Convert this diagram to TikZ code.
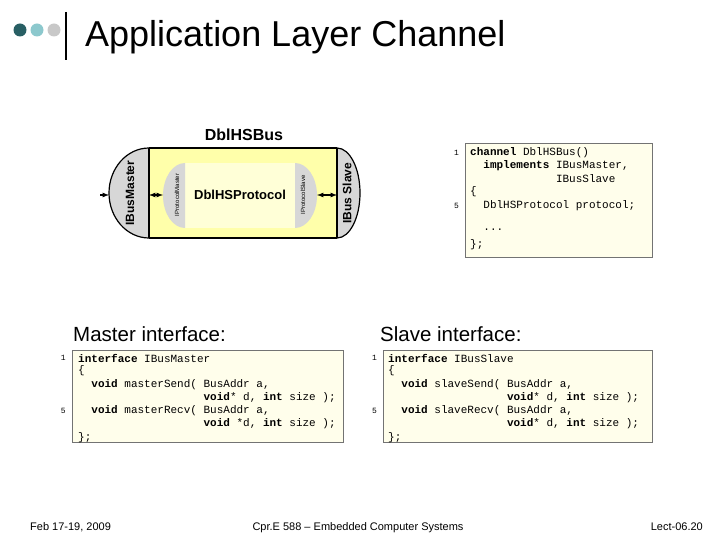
\documentclass[tikz,border=0pt]{standalone}
\usepackage{fontspec}
\setmainfont{Liberation Sans}
\setmonofont{Liberation Mono}
\begin{document}
\begin{tikzpicture}[x=1pt,y=-1pt,
  code/.style={anchor=west,inner sep=0pt,font=\fontsize{11}{12}\selectfont\ttfamily},
  lnum/.style={anchor=east,inner sep=0pt,font=\fontsize{8}{9}\selectfont\ttfamily},
  box/.style={draw=black!55,line width=0.8pt,fill=yellow!8},
  dbl/.style={<->,>=latex,line width=1.2pt}]
\useasboundingbox (0,0) rectangle (720,540);
\definecolor{dk}{RGB}{40,95,100}\definecolor{lt}{RGB}{140,200,205}\definecolor{gr}{RGB}{200,200,200}
\definecolor{ylw}{RGB}{255,255,170}\definecolor{ylw2}{RGB}{255,255,215}\definecolor{capg}{RGB}{215,215,215}
\fill[dk] (20,30) circle (6.5);\fill[lt] (37,30) circle (6.5);\fill[gr] (54,30) circle (6.5);
\draw[line width=2pt] (66,12) -- (66,60);
\node[anchor=base west,inner sep=0pt,font=\fontsize{36}{40}\selectfont] (title) at (85,47) {Application Layer Channel};
% bus
\node[font=\bfseries\fontsize{16}{18}\selectfont] (bus) at (244,135) {DblHSBus};
\fill[ylw] (149,148) rectangle (337,238);
\draw[fill=capg,line width=1.2pt] (149,148) arc[start angle=-90,end angle=-270,x radius=40,y radius=45] -- cycle;
\draw[fill=capg,line width=1.2pt] (337,148) arc[start angle=-90,end angle=90,x radius=23,y radius=45] -- cycle;
\draw[line width=2pt] (149,148) -- (337,148) (149,238) -- (337,238);
\draw[line width=1.2pt] (149,148) -- (149,238) (337,148) -- (337,238);
\fill[ylw2] (185,163) rectangle (295,228);
\fill[capg] (185,163) arc[start angle=-90,end angle=-270,x radius=22,y radius=32.5] -- cycle;
\fill[capg] (295,163) arc[start angle=-90,end angle=90,x radius=22,y radius=32.5] -- cycle;
\node[rotate=90,font=\bfseries\fontsize{12}{14}\selectfont] (ibm) at (130,193) {IBusMaster};
\node[rotate=90,font=\bfseries\fontsize{12}{14}\selectfont] (ibs) at (347,193) {IBus Slave};
\node[rotate=90,font=\fontsize{6}{7}\selectfont] (ipm) at (177,195) {IProtocolMaster};
\node[rotate=90,font=\fontsize{6}{7}\selectfont] (ips) at (303,195) {IProtocolSlave};
\node[font=\bfseries\fontsize{13}{15}\selectfont] (prot) at (240,195) {DblHSProtocol};
\coordinate (lt) at (100,195);\coordinate (lm) at (109,195);
\draw[->,>=latex,line width=1.2pt] (lt) -- (lm);
\coordinate (a1) at (149,195);\coordinate (a2) at (163,195);
\draw[dbl] (a1) -- (a2);
\coordinate (b1) at (317,195);\coordinate (b2) at (337,195);
\draw[dbl] (b1) -- (b2);
% channel code
\draw[box] (465,143) rectangle (652,257);
\node[lnum] (n1) at (459,153) {1};\node[lnum] (n5) at (459,206) {5};
\node[code] (c1) at (470,153) {\textbf{channel} DblHSBus()};
\node[code] (c2) at (470,166) {\ \ \textbf{implements} IBusMaster,};
\node[code] (c3) at (470,179) {\ \ \ \ \ \ \ \ \ \ \ \ \ IBusSlave};
\node[code] (c4) at (470,192) {\{};
\node[code] (c5) at (470,206) {\ \ DblHSProtocol protocol;};
\node[code] (c6) at (470,230) {\ \ ...};
\node[code] (c7) at (470,245) {\};};
% master
\node[anchor=base west,inner sep=0pt,font=\fontsize{20.5}{24}\selectfont] (mi) at (73,341) {Master interface:};
\draw[box] (72,350) rectangle (343,442);
\node[lnum] (m1) at (66,358) {1};\node[lnum] (m5) at (66,411) {5};
\node[code] (mc1) at (78,358) {\textbf{interface} IBusMaster};
\node[code] (mc2) at (78,371) {\{};
\node[code] (mc3) at (78,385) {\ \ \textbf{void} masterSend( BusAddr a,};
\node[code] (mc4) at (78,398) {\ \ \ \ \ \ \ \ \ \ \ \ \ \ \ \ \ \ \ \textbf{void}* d, \textbf{int} size );};
\node[code] (mc5) at (78,411) {\ \ \textbf{void} masterRecv( BusAddr a,};
\node[code] (mc6) at (78,424) {\ \ \ \ \ \ \ \ \ \ \ \ \ \ \ \ \ \ \ \textbf{void} *d, \textbf{int} size );};
\node[code] (mc7) at (78,438) {\};};
% slave
\node[anchor=base west,inner sep=0pt,font=\fontsize{20.5}{24}\selectfont] (si) at (380,341) {Slave interface:};
\draw[box] (383,350) rectangle (652,442);
\node[lnum] (s1) at (377,358) {1};\node[lnum] (s5) at (377,411) {5};
\node[code] (sc1) at (388,358) {\textbf{interface} IBusSlave};
\node[code] (sc2) at (388,371) {\{};
\node[code] (sc3) at (388,385) {\ \ \textbf{void} slaveSend( BusAddr a,};
\node[code] (sc4) at (388,398) {\ \ \ \ \ \ \ \ \ \ \ \ \ \ \ \ \ \ \textbf{void}* d, \textbf{int} size );};
\node[code] (sc5) at (388,411) {\ \ \textbf{void} slaveRecv( BusAddr a,};
\node[code] (sc6) at (388,424) {\ \ \ \ \ \ \ \ \ \ \ \ \ \ \ \ \ \ \textbf{void}* d, \textbf{int} size );};
\node[code] (sc7) at (388,438) {\};};
% footer
\node[anchor=base west,inner sep=0pt,font=\fontsize{11}{13}\selectfont] (f1) at (30,530) {Feb 17-19, 2009};
\node[anchor=base,inner sep=0pt,font=\fontsize{11}{13}\selectfont] (f2) at (358,530) {Cpr.E 588 -- Embedded Computer Systems};
\node[anchor=base east,inner sep=0pt,font=\fontsize{11}{13}\selectfont] (f3) at (703,530) {Lect-06.20};
\end{tikzpicture}
\end{document}
